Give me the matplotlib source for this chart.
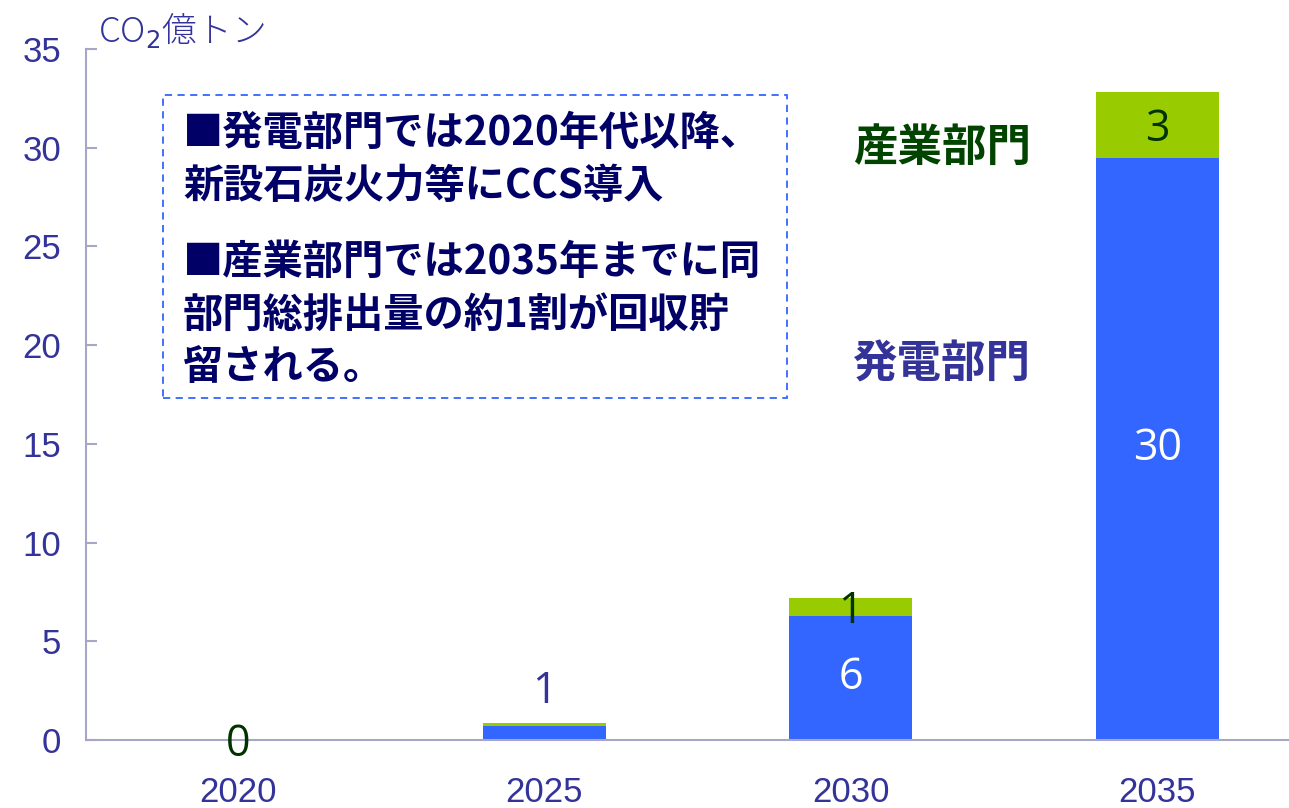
import matplotlib
matplotlib.use("Agg")
import matplotlib.pyplot as plt
from matplotlib.patches import Rectangle

plt.rcParams['font.family'] = ['Noto Sans CJK JP', 'DejaVu Sans']

years = ['2020', '2025', '2030', '2035']
power = [0.0, 0.7, 6.3, 29.5]
industry = [0.0, 0.18, 0.87, 3.3]
power_labels = ['', '1', '6', '30']
industry_labels = ['0', '', '1', '3']
yticks = [0, 5, 10, 15, 20, 25, 30, 35]

BLUE = '#3366ff'
GREEN = '#99cc00'
NAVY = '#333399'
DKGREEN = '#003300'
AXIS = '#a6a6c8'

fig = plt.figure(figsize=(12.89, 8.08), dpi=100)
ax = fig.add_axes([86/1289, (808-740)/808, (1289-86)/1289, 691/808])

x = list(range(len(years)))
ax.bar(x, power, width=0.4, color=BLUE, zorder=2)
ax.bar(x, industry, width=0.4, bottom=power, color=GREEN, zorder=2)

ax.set_xlim(-0.495, 3.43)
ax.set_ylim(0, 35)
ax.set_yticks(yticks)
ax.set_xticks(x)
ax.set_xticklabels(years)
for s in ['top', 'right']:
    ax.spines[s].set_visible(False)
for s in ['left', 'bottom']:
    ax.spines[s].set_color(AXIS)
    ax.spines[s].set_linewidth(1.5)
ax.tick_params(axis='y', direction='in', length=8, width=1.5, color=AXIS,
               labelsize=25, labelcolor=NAVY, pad=18)
ax.tick_params(axis='x', length=0, labelsize=25, labelcolor=NAVY, pad=26)
for lab in ax.get_xticklabels() + ax.get_yticklabels():
    lab.set_family(['Liberation Sans', 'DejaVu Sans'])

num_font = ['Open Sans', 'DejaVu Sans']
NUMSIZE = 31
for i in x:
    if power_labels[i]:
        if power[i] < 2:
            ax.text(i, power[i] + industry[i] + 0.45, power_labels[i], ha='center', va='bottom',
                    fontsize=NUMSIZE, color=NAVY, family=num_font, zorder=3)
        else:
            ax.text(i, power[i] / 2, power_labels[i], ha='center', va='center',
                    fontsize=NUMSIZE, color='white', family=num_font, zorder=3)
    if industry_labels[i]:
        ax.text(i, power[i] + industry[i] / 2 - 0.25, industry_labels[i], ha='center', va='center',
                fontsize=NUMSIZE, color=DKGREEN, family=num_font, zorder=3)

# unit label
fig.text(98/1289, 1 - 31/808, 'CO$_2$億トン', fontsize=25, color=NAVY, ha='left', va='center',
         family=['Noto Sans CJK JP', 'DejaVu Sans'], fontweight='light')

# dashed box
box = Rectangle((163/1289, 1 - 398/808), (787-163)/1289, (398-95)/808, transform=fig.transFigure,
                fill=False, edgecolor=BLUE, linestyle=(0, (4, 3)), linewidth=1.3)
fig.add_artist(box)

lines = [
    ('■発電部門では2020年代以降、', 133),
    ('新設石炭火力等にCCS導入', 187),
    ('■産業部門では2035年までに同', 262),
    ('部門総排出量の約1割が回収貯', 315),
    ('留される。', 368),
]
for t, yy in lines:
    fig.text(183/1289, 1 - yy/808, t, fontsize=29, color='#000066', fontweight='bold',
             ha='left', va='center')

fig.text(853/1289, 1 - 148/808, '産業部門', fontsize=32, color='#004400', fontweight='bold',
         ha='left', va='center')
fig.text(853/1289, 1 - 365/808, '発電部門', fontsize=32, color=NAVY, fontweight='bold',
         ha='left', va='center')

fig.savefig('out.png', dpi=100)
